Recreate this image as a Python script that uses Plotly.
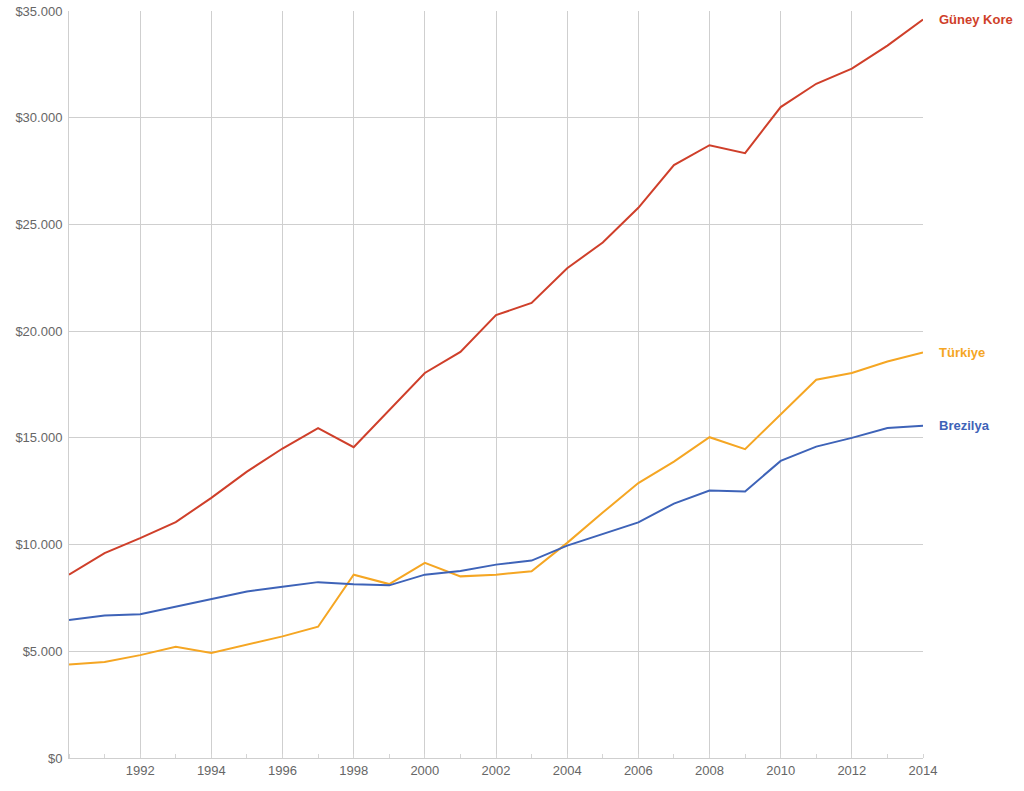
import plotly.graph_objects as go

years = list(range(1990, 2015))

guney_kore = [8590, 9600, 10300, 11050, 12190, 13420, 14500, 15460, 14560, 16300,
              18040, 19030, 20750, 21320, 22950, 24150, 25780, 27780, 28710, 28340,
              30500, 31590, 32300, 33380, 34600]
turkiye = [4380, 4500, 4820, 5210, 4920, 5320, 5700, 6150, 8590, 8150,
           9140, 8510, 8590, 8750, 10080, 11500, 12880, 13890, 15030, 14470,
           16080, 17720, 18040, 18580, 19000]
brezilya = [6470, 6680, 6740, 7090, 7420, 7800, 8020, 8240, 8140, 8090,
            8590, 8760, 9060, 9250, 9950, 10500, 11040, 11920, 12530, 12490,
            13920, 14590, 15000, 15460, 15570]

series_names = ["Güney Kore", "Türkiye", "Brezilya"]
series_colors = ["#cf3f2a", "#f5a623", "#3e63b8"]

y_tick_vals = [0, 5000, 10000, 15000, 20000, 25000, 30000, 35000]
y_tick_text = ["$0", "$5.000", "$10.000", "$15.000", "$20.000", "$25.000", "$30.000", "$35.000"]
x_tick_vals = [1992, 1994, 1996, 1998, 2000, 2002, 2004, 2006, 2008, 2010, 2012, 2014]
x_tick_text = [str(v) for v in x_tick_vals]

fig = go.Figure()
for name, vals, col in zip(series_names, [guney_kore, turkiye, brezilya], series_colors):
    fig.add_trace(go.Scatter(x=years, y=vals, mode="lines", name=name,
                             line=dict(color=col, width=2), showlegend=False))
    fig.add_annotation(x=years[-1], y=vals[-1], text="<b>" + name + "</b>",
                       xanchor="left", yanchor="middle", xshift=14, showarrow=False,
                       font=dict(family="Liberation Sans, Arial", size=13, color=col))

fig.update_layout(
    width=1024, height=791,
    margin=dict(l=69, r=101, t=11, b=33),
    paper_bgcolor="white", plot_bgcolor="white",
    font=dict(family="Liberation Sans, Arial", size=13, color="#666"),
)
fig.update_xaxes(range=[1990, 2014], tickvals=x_tick_vals, ticktext=x_tick_text,
                 showgrid=True, gridcolor="#cfcfcf", gridwidth=1,
                 showline=True, linecolor="#cfcfcf", linewidth=1, mirror=False,
                 ticks="", zeroline=False, automargin=False,
                 minor=dict(dtick=1, tick0=1990, ticks="inside", ticklen=4,
                            tickcolor="#d5d5d5", showgrid=False),
                 tickfont=dict(size=13, color="#666"))
fig.update_yaxes(range=[0, 35000], tickvals=y_tick_vals, ticktext=y_tick_text,
                 showgrid=True, gridcolor="#cfcfcf", gridwidth=1,
                 showline=True, linecolor="#cfcfcf", linewidth=1,
                 ticks="outside", ticklen=3, tickcolor="white", zeroline=False,
                 automargin=False, ticklabeloverflow="allow",
                 tickfont=dict(size=13, color="#666"))

fig.write_html("out.html", config={"displayModeBar": False},
               post_script="document.body.style.margin='0px';")
